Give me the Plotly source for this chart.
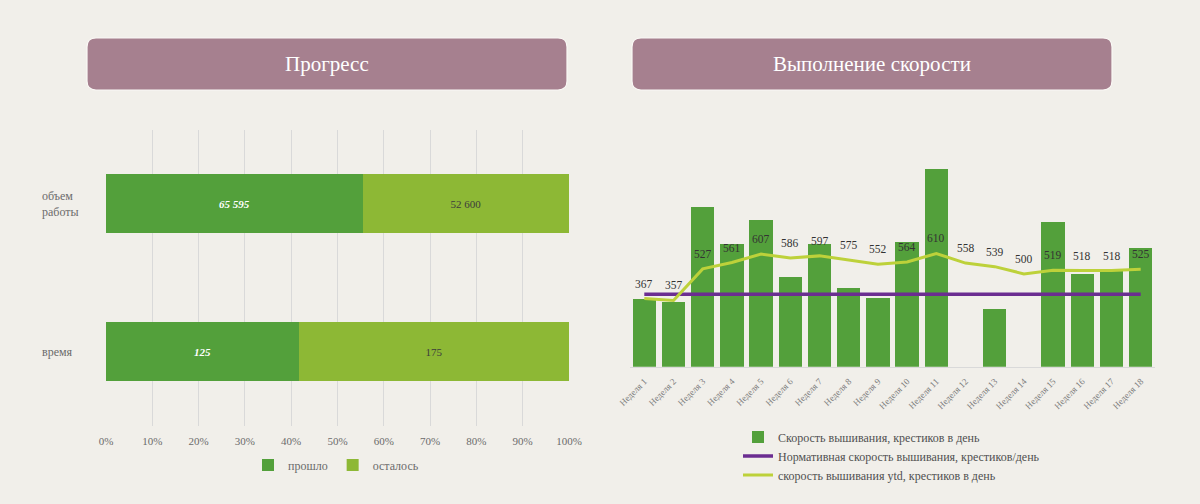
import plotly.graph_objects as go

# ---------------- data ----------------
prog_categories = ["объем<br>работы", "время"]
prog_done = [65595, 125]
prog_left = [52600, 175]
prog_series = ["прошло", "осталось"]
pct_ticks = [0, 0.1, 0.2, 0.3, 0.4, 0.5, 0.6, 0.7, 0.8, 0.9, 1.0]

weeks = ["Неделя 1", "Неделя 2", "Неделя 3", "Неделя 4", "Неделя 5", "Неделя 6",
         "Неделя 7", "Неделя 8", "Неделя 9", "Неделя 10", "Неделя 11", "Неделя 12",
         "Неделя 13", "Неделя 14", "Неделя 15", "Неделя 16", "Неделя 17", "Неделя 18"]
speed = [367, 347, 860, 660, 790, 483, 660, 423, 368, 671, 1066, 0, 311, 0, 780, 502, 523, 639]
speed_ytd = [367, 357, 527, 561, 607, 586, 597, 575, 552, 564, 610, 558, 539, 500, 519, 518, 518, 525]
norm_speed = 390

title_left = "Прогресс"
title_right = "Выполнение скорости"
name_speed = "Скорость вышивания, крестиков в день"
name_norm = "Нормативная скорость вышивания, крестиков/день"
name_ytd = "скорость вышивания ytd, крестиков в день"

# ---------------- style ----------------
W, H = 1200, 504
BG = "#F1EFEA"
DARK_GREEN = "#53A03B"
LIGHT_GREEN = "#8DB835"
YTD_COLOR = "#BDD13A"
PURPLE = "#6B2D91"
MAUVE = "#A6808F"
FONT = "Liberation Serif"
GREY = "#6b6b6b"

def px_x(x):
    return x / W

def px_y(y):
    return 1 - y / H

fig = go.Figure()

# ---------- left chart ----------
totals = [a + b for a, b in zip(prog_done, prog_left)]
done_frac = [a / t for a, t in zip(prog_done, totals)]
left_frac = [b / t for b, t in zip(prog_left, totals)]

def fmt(v):
    return f"{v:,}".replace(",", " ")

fig.add_trace(go.Bar(
    y=prog_categories, x=done_frac, orientation="h", name=prog_series[0],
    marker=dict(color=DARK_GREEN, line=dict(width=0)),
    text=[fmt(v) for v in prog_done], textposition="inside", insidetextanchor="middle",
    textfont=dict(family=FONT, size=11, color="white", weight="bold", style="italic"),
    xaxis="x", yaxis="y", legend="legend", hoverinfo="skip",
))
fig.add_trace(go.Bar(
    y=prog_categories, x=left_frac, orientation="h", name=prog_series[1],
    marker=dict(color=LIGHT_GREEN, line=dict(width=0)),
    text=[fmt(v) for v in prog_left], textposition="inside", insidetextanchor="middle",
    textfont=dict(family=FONT, size=11, color="#3c3c3c"),
    xaxis="x", yaxis="y", legend="legend", hoverinfo="skip",
))

# ---------- right chart ----------
fig.add_trace(go.Bar(
    x=weeks, y=speed, name=name_speed, width=0.8,
    marker=dict(color=DARK_GREEN, line=dict(width=0)),
    xaxis="x2", yaxis="y2", legend="legend2", hoverinfo="skip",
))
fig.add_trace(go.Scatter(
    x=weeks, y=[norm_speed] * len(weeks), name=name_norm, mode="lines",
    line=dict(color=PURPLE, width=3.5),
    xaxis="x2", yaxis="y2", legend="legend2", hoverinfo="skip",
))
fig.add_trace(go.Scatter(
    x=weeks, y=speed_ytd, name=name_ytd, mode="lines",
    line=dict(color=YTD_COLOR, width=3),
    xaxis="x2", yaxis="y2", legend="legend2", hoverinfo="skip",
))

annotations = []
for w, v in zip(weeks, speed_ytd):
    annotations.append(dict(
        x=w, y=v, xref="x2", yref="y2", text=str(v), showarrow=False,
        yanchor="middle", yshift=15,
        font=dict(family=FONT, size=11.5, color="#333333"),
    ))

# category labels of left chart (left aligned)
for c in prog_categories:
    annotations.append(dict(
        x=px_x(40), y=c, xref="paper", yref="y", text=c, showarrow=False,
        xanchor="left", align="left", yanchor="middle",
        font=dict(family=FONT, size=12, color=GREY),
    ))

# title boxes
def rounded_rect(x0, y0, x1, y1, r):
    rx = r / W
    ry = r / H
    X0, X1 = px_x(x0), px_x(x1)
    Yt, Yb = px_y(y0), px_y(y1)
    return (f"M {X0+rx},{Yt} L {X1-rx},{Yt} Q {X1},{Yt} {X1},{Yt-ry} "
            f"L {X1},{Yb+ry} Q {X1},{Yb} {X1-rx},{Yb} "
            f"L {X0+rx},{Yb} Q {X0},{Yb} {X0},{Yb+ry} "
            f"L {X0},{Yt-ry} Q {X0},{Yt} {X0+rx},{Yt} Z")

shapes = []
for (x0, x1, t) in [(87, 567, title_left), (632, 1112, title_right)]:
    shapes.append(dict(type="path", path=rounded_rect(x0, 38, x1, 90, 9),
                       xref="paper", yref="paper", fillcolor=MAUVE,
                       line=dict(color="#FAF8F5", width=1.2), layer="below"))
    annotations.append(dict(
        x=px_x((x0 + x1) / 2), y=px_y(64), xref="paper", yref="paper", text=t,
        showarrow=False, xanchor="center", yanchor="middle",
        font=dict(family=FONT, size=21, color="white"),
    ))

fig.update_layout(
    template="none",
    width=W, height=H, autosize=False,
    margin=dict(l=0, r=0, t=0, b=0, pad=0, autoexpand=False),
    paper_bgcolor=BG, plot_bgcolor=BG,
    font=dict(family=FONT, color=GREY),
    barmode="stack", bargap=0.6,
    showlegend=True,
    xaxis=dict(domain=[px_x(106), px_x(569)], range=[0, 1], tickvals=pct_ticks,
               tickformat=".0%", showgrid=True, gridcolor="#D9D9D9", gridwidth=1,
               zeroline=False, showline=False, ticks="", automargin=False,
               ticklabelstandoff=7,
               tickfont=dict(family=FONT, size=11, color=GREY), anchor="y",
               fixedrange=True),
    yaxis=dict(domain=[px_y(425.5), px_y(129.5)], autorange="reversed",
               showticklabels=False, showgrid=False, zeroline=False, anchor="x",
               automargin=False, fixedrange=True),
    xaxis2=dict(domain=[px_x(629.7), px_x(1155.3)], anchor="y2", tickangle=-45,
                tickfont=dict(family=FONT, size=9, color="#7a7a7a"), showline=True,
                linecolor="#D9D9D9", linewidth=1, ticks="", showgrid=False,
                ticklabelstandoff=5, automargin=False, fixedrange=True),
    yaxis2=dict(domain=[px_y(366.7), px_y(162.5)], range=[0, 1100], anchor="x2",
                showticklabels=False, showgrid=False, zeroline=False,
                automargin=False, fixedrange=True),
    legend=dict(orientation="h", x=px_x(336), y=px_y(465), xanchor="center",
                yanchor="middle", font=dict(family=FONT, size=12, color=GREY),
                bgcolor="rgba(0,0,0,0)", traceorder="normal", itemwidth=30),
    legend2=dict(orientation="v", x=px_x(738), y=px_y(456), xanchor="left",
                 yanchor="middle", font=dict(family=FONT, size=12, color="#505050"),
                 bgcolor="rgba(0,0,0,0)", tracegroupgap=0, traceorder="normal",
                 itemwidth=30),
    annotations=annotations,
    shapes=shapes,
)

fig.write_html(
    "out.html",
    config={"responsive": False, "displayModeBar": False},
    post_script="document.body.style.margin='0';document.body.style.overflow='hidden';",
)
